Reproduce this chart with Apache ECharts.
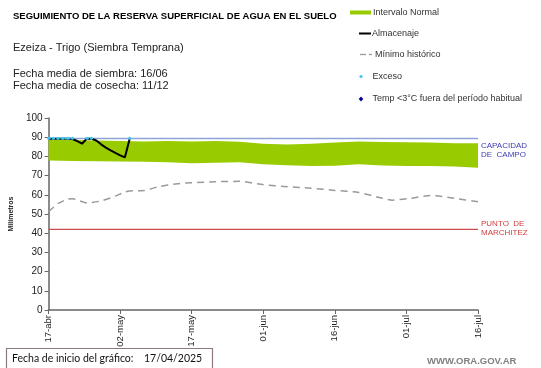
<!DOCTYPE html>
<html><head><meta charset="utf-8">
<script src="https://cdn.jsdelivr.net/npm/echarts@6/dist/echarts.min.js"></script>
<style>html,body{margin:0;padding:0;background:#fff}#c{width:541px;height:368px}</style>
</head><body><div id="c"></div>
<script>
// ---- data (days counted from 17-abr) ----
const tickLabels = ['17-abr','02-may','17-may','01-jun','16-jun','01-jul','16-jul'];
const bandDays  = [0,5,10,15,20,25,30,35,40,45,50,55,60,65,70,75,80,85,90];
const bandUpper = [88.6,88.5,88.3,88.0,87.8,88.0,87.7,88.0,87.6,86.6,86.2,86.6,87.3,87.7,87.5,87.4,87.3,86.9,86.8];
const bandLower = [77.8,77.6,77.5,77.4,77.2,76.9,76.4,76.7,77.0,75.9,75.4,75.0,75.1,75.9,75.3,75.0,75.0,74.7,74.1];
const minDays   = [0,2,4,5,8,11,14,16,17,20,23,27,30,35,40,45,50,55,60,65,70,72,76,80,85,90];
const minValues = [51.2,55.5,57.8,58.0,55.8,56.8,59.3,61.5,62.0,62.2,64.2,65.8,66.3,66.8,67.0,65.3,64.2,63.4,62.3,61.2,58.2,57.2,58.2,59.7,58.2,56.4];
const storageDays   = [0,1,2,3,4,5,6,7,8,9,10,11,12,13,14,15,16,17];
const storageValues = [89.2,89.2,89.2,89.2,89.2,89.0,88.0,86.6,89.2,89.2,88.3,86.3,84.6,83.1,81.8,80.5,79.5,89.2];
const excessDays   = [0,1,2,3,4,5,6,8,9,10,17];
const excessValues = [89.5,89.5,89.5,89.5,89.5,89.5,null,89.5,89.5,null,89.5];
const capacidad = 89.3;
const marchitez = 42;
const xRange = [0, 90];

const FONT = 'Liberation Sans';
const chart = echarts.init(document.getElementById('c'), null, {renderer:'canvas'});

const option = {
  animation: false,
  backgroundColor: '#fff',
  grid: {left: 32, top: 118, right: 63, bottom: 58},
  xAxis: {
    type: 'value', min: xRange[0], max: xRange[1], interval: 15,
    splitLine: {show: false},
    axisLine: {lineStyle: {color: '#666', width: 1.5}},
    axisTick: {show: true, length: 4, lineStyle: {color: '#666'}},
    axisLabel: {
      rotate: 90, fontSize: 9.5, fontFamily: FONT, color: '#222', margin: 5,
      formatter: v => tickLabels[Math.round(v / 15)]
    }
  },
  yAxis: {
    type: 'value', min: 0, max: 100, interval: 10,
    name: 'Milímetros', nameLocation: 'middle', nameGap: 25, nameRotate: 90,
    nameTextStyle: {fontSize: 7, fontWeight: 'bold', fontFamily: FONT, color: '#222'},
    splitLine: {show: false},
    axisLine: {show: true, lineStyle: {color: '#666', width: 1.5}},
    axisTick: {show: true, length: 4, lineStyle: {color: '#666'}},
    axisLabel: {fontSize: 10, fontFamily: FONT, color: '#222', margin: 6}
  },
  series: [
    {
      type: 'custom', name: 'Intervalo Normal', z: 1,
      data: bandDays.map((d, i) => [d, bandLower[i], bandUpper[i]]),
      encode: {x: 0, y: [1, 2]},
      renderItem: function (params, api) {
        if (params.dataIndex !== 0) return null;
        const pts = [];
        for (let i = 0; i < bandDays.length; i++) pts.push(api.coord([bandDays[i], bandUpper[i]]));
        for (let i = bandDays.length - 1; i >= 0; i--) pts.push(api.coord([bandDays[i], bandLower[i]]));
        return {type: 'polygon', shape: {points: pts}, style: {fill: '#99cc00'}};
      }
    },
    {
      type: 'line', name: 'Capacidad de campo', z: 2, symbol: 'none',
      data: xRange.map(d => [d, capacidad]),
      lineStyle: {color: '#8ea3d8', width: 1.5}
    },
    {
      type: 'line', name: 'Punto de marchitez', z: 2, symbol: 'none',
      data: xRange.map(d => [d, marchitez]),
      lineStyle: {color: '#cc4c4c', width: 1.3}
    },
    {
      type: 'line', name: 'Mínimo histórico', z: 2, symbol: 'none', smooth: 0.2,
      data: minDays.map((d, i) => [d, minValues[i]]),
      lineStyle: {color: '#9a9a9a', width: 1.5, type: [7, 5]}
    },
    {
      type: 'line', name: 'Almacenaje', z: 3, symbol: 'none',
      data: storageDays.map((d, i) => [d, storageValues[i]]),
      lineStyle: {color: '#000', width: 2}
    },
    {
      type: 'line', name: 'Exceso', z: 4, symbol: 'circle', symbolSize: 3, showAllSymbol: true,
      connectNulls: false,
      data: excessDays.map((d, i) => [d, excessValues[i] === null ? '-' : excessValues[i]]),
      itemStyle: {color: '#3cc8f0'},
      lineStyle: {color: '#3cc8f0', width: 2, type: [2, 2]}
    }
  ]
};
chart.setOption(option);

const yCap = chart.convertToPixel({yAxisIndex: 0}, capacidad);
const yMar = chart.convertToPixel({yAxisIndex: 0}, marchitez);
const xEnd = chart.convertToPixel({xAxisIndex: 0}, xRange[1]);
const txt = (x, y, text, size, color, weight, family) => ({
  type: 'text', x: x, y: y,
  style: {text: text, fontSize: size, fill: color, fontWeight: weight || 'normal',
          fontFamily: family || FONT, verticalAlign: 'middle', align: 'left'}
});

chart.setOption({
  graphic: [
    txt(13, 16, 'SEGUIMIENTO DE LA RESERVA SUPERFICIAL DE AGUA EN EL SUELO', 9.5, '#000', 'bold'),
    txt(13, 48, 'Ezeiza - Trigo (Siembra Temprana)', 11, '#222'),
    txt(13, 74, 'Fecha media de siembra: 16/06', 11, '#222'),
    txt(13, 86, 'Fecha media de cosecha: 11/12', 11, '#222'),
    // legend
    {type: 'rect', shape: {x: 350, y: 10.5, width: 21, height: 4}, style: {fill: '#99cc00'}},
    txt(373, 12.5, 'Intervalo Normal', 9, '#333'),
    {type: 'line', shape: {x1: 359, y1: 33.5, x2: 371, y2: 33.5}, style: {stroke: '#000', lineWidth: 2}},
    txt(372, 33.5, 'Almacenaje', 9, '#333'),
    {type: 'line', shape: {x1: 360, y1: 54.5, x2: 366, y2: 54.5}, style: {stroke: '#999', lineWidth: 1.3}},
    {type: 'line', shape: {x1: 369, y1: 54.5, x2: 372, y2: 54.5}, style: {stroke: '#999', lineWidth: 1.3}},
    txt(375, 54.5, 'Mínimo histórico', 9, '#333'),
    {type: 'circle', shape: {cx: 361, cy: 76.5, r: 1.6}, style: {fill: '#3cc8f0'}},
    txt(372.5, 76.5, 'Exceso', 9, '#333'),
    {type: 'polygon', shape: {points: [[361, 96.5], [363.3, 99], [361, 101.5], [358.7, 99]]}, style: {fill: '#000099'}},
    txt(372.5, 99, 'Temp <3°C fuera del período habitual', 9, '#333'),
    // reference line labels
    txt(xEnd + 3, yCap + 7, 'CAPACIDAD', 8, '#3c3cb4'),
    txt(xEnd + 3, yCap + 16, 'DE  CAMPO', 8, '#3c3cb4'),
    txt(xEnd + 3, yMar - 5.5, 'PUNTO  DE', 8, '#d04040'),
    txt(xEnd + 3, yMar + 3.5, 'MARCHITEZ', 8, '#d04040'),
    // bottom info box
    {type: 'rect', shape: {x: 6.5, y: 348.5, width: 206, height: 20}, style: {fill: '#fff', stroke: '#8d7b7b', lineWidth: 1.2}},
    txt(12, 359, 'Fecha de inicio del gráfico:', 10.5, '#111', 'normal', 'Lato'),
    txt(144, 359, '17/04/2025', 10.5, '#111', 'normal', 'Lato'),
    txt(427, 361, 'WWW.ORA.GOV.AR', 9.5, '#808080', 'bold')
  ]
});
</script>
</body></html>
